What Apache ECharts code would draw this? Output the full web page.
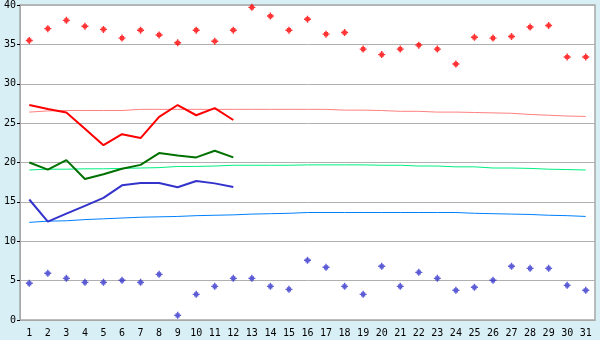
<!DOCTYPE html>
<html><head><meta charset="utf-8">
<script src="https://cdn.jsdelivr.net/npm/echarts@6/dist/echarts.min.js"></script>
<style>html,body{margin:0;padding:0;background:#d9eff6;}#c{width:600px;height:340px;}</style>
</head><body><div id="c"></div>
<script>
const days = Array.from({length:31},(_,i)=>String(i+1));
const yTicks = [0,5,10,15,20,25,30,35,40];
const maxAbs = [35.5,37.0,38.05,37.3,36.9,35.8,36.8,36.2,35.2,36.8,35.4,36.8,39.7,38.6,36.8,38.2,36.3,36.5,34.4,33.7,34.4,34.9,34.4,32.5,35.9,35.8,36.0,37.2,37.4,33.4,33.4];
const minAbs = [4.66,5.93,5.29,4.78,4.78,5.04,4.78,5.8,0.59,3.26,4.27,5.29,5.29,4.27,3.89,7.58,6.69,4.27,3.26,6.82,4.27,6.05,5.29,3.77,4.15,5.04,6.82,6.56,6.56,4.4,3.77];
const maxMean = [27.3,26.8,26.35,24.3,22.2,23.6,23.1,25.8,27.3,26.0,26.9,25.4];
const meanMean = [20.0,19.1,20.3,17.9,18.5,19.2,19.7,21.2,20.9,20.65,21.5,20.65];
const minMean = [15.3,12.5,13.5,14.5,15.5,17.1,17.4,17.4,16.85,17.65,17.35,16.9];
const maxNorm = [26.4,26.55,26.6,26.6,26.6,26.6,26.75,26.75,26.75,26.75,26.75,26.75,26.75,26.75,26.75,26.75,26.75,26.65,26.65,26.6,26.5,26.5,26.4,26.4,26.35,26.3,26.25,26.1,26.0,25.9,25.85];
const meanNorm = [19.05,19.15,19.15,19.2,19.2,19.25,19.3,19.35,19.5,19.5,19.55,19.65,19.65,19.65,19.65,19.7,19.7,19.7,19.7,19.65,19.65,19.55,19.55,19.45,19.45,19.3,19.3,19.25,19.15,19.1,19.05];
const minNorm = [12.4,12.55,12.6,12.75,12.85,12.95,13.05,13.1,13.15,13.25,13.3,13.35,13.45,13.5,13.55,13.65,13.65,13.65,13.65,13.65,13.65,13.65,13.65,13.65,13.55,13.5,13.45,13.4,13.3,13.25,13.15];

const sym = 'path://M2,0H3V1H4V2H5V3H4V4H3V5H2V4H1V3H0V2H1V1H2Z';
const chart = echarts.init(document.getElementById('c'), null, {renderer:'canvas'});
function line(data, color, w, z){
  return {type:'line', data, symbol:'none', lineStyle:{color, width:w}, itemStyle:{color}, z, animation:false, silent:true};
}
chart.setOption({
  animation:false,
  backgroundColor:'#d9eff6',
  grid:{left:20,right:5,top:5,bottom:20,show:true,backgroundColor:'#ffffff',borderColor:'#a8a8a8',borderWidth:1.5},
  xAxis:{type:'category',data:days,boundaryGap:true,
    axisLine:{lineStyle:{color:'#a8a8a8',width:1}},
    axisTick:{alignWithLabel:true,length:5,lineStyle:{color:'#000'}},
    axisLabel:{color:'#000',fontFamily:'DejaVu Sans Mono',fontSize:10,margin:8,interval:0},
    splitLine:{show:false}},
  yAxis:{type:'value',min:0,max:40,interval:5,
    axisLine:{show:true,lineStyle:{color:'#a8a8a8',width:1}},
    axisTick:{show:true,length:3,lineStyle:{color:'#000'}},
    axisLabel:{color:'#000',fontFamily:'DejaVu Sans Mono',fontSize:10,margin:4,
      formatter:v=>yTicks.includes(v)?String(v):''},
    splitLine:{lineStyle:{color:'#b0b0b0',width:1}}},
  series:[
    line(maxNorm,'#ff8080',1,2),
    line(meanNorm,'#00f080',1,2),
    line(minNorm,'#0080ff',1,2),
    line(maxMean,'#ff0000',2,3),
    line(meanMean,'#007000',2,3),
    line(minMean,'#3333cc',2,3),
    {type:'scatter',data:maxAbs,symbol:sym,symbolSize:7,itemStyle:{color:'#ff0000'},z:4,silent:true},
    {type:'scatter',data:minAbs,symbol:sym,symbolSize:7,itemStyle:{color:'#3333cc'},z:4,silent:true}
  ]
});
</script></body></html>
